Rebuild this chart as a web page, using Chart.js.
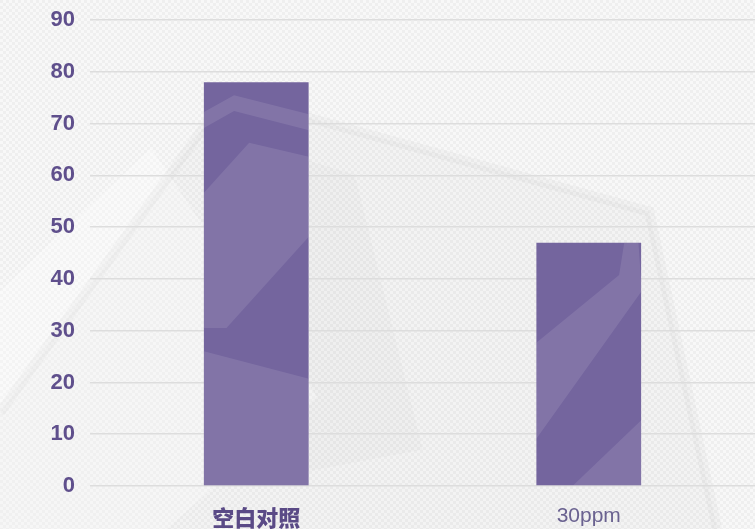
<!DOCTYPE html>
<html>
<head>
<meta charset="utf-8">
<script src="https://cdn.jsdelivr.net/npm/chart.js@4/dist/chart.umd.min.js"></script>
<style>
  html, body { margin: 0; padding: 0; background: #f4f4f4; overflow: hidden; }
  #wrap { width: 755px; height: 529px; }
</style>
</head>
<body>
<div id="wrap"><canvas id="c"></canvas></div>
<script>
// data
const categories = ['空白对照', '30ppm'];
const values = [78, 47];
const yTicks = [0, 10, 20, 30, 40, 50, 60, 70, 80, 90];

const purple = '#5f4f8c';

// decorative backdrop shapes, in fractions of canvas size
const shapes = [
  { pts: [[0, 0.78], [0.30, 0.18], [0.86, 0.40], [0.95, 1.0], [0, 1.0]], fill: 'rgba(0,0,0,0.018)' },
  { pts: [[0.33, 0.27], [0.47, 0.33], [0.56, 0.85], [0.30, 0.92], [0.27, 0.50]], fill: 'rgba(0,0,0,0.015)' },
  { pts: [[0.0, 0.55], [0.20, 0.28], [0.42, 0.75], [0.22, 1.0], [0.0, 1.0]], fill: 'rgba(255,255,255,0.3)' }
];

function drawShapes(ctx, w, h) {
  shapes.forEach(s => {
    ctx.beginPath();
    s.pts.forEach((p, i) => {
      if (i === 0) ctx.moveTo(p[0] * w, p[1] * h); else ctx.lineTo(p[0] * w, p[1] * h);
    });
    ctx.closePath();
    ctx.fillStyle = s.fill;
    ctx.fill();
  });
}

function makePattern() {
  const p = document.createElement('canvas');
  p.width = 6; p.height = 6;
  const g = p.getContext('2d');
  g.fillStyle = '#f8f8f8';
  g.fillRect(0, 0, 6, 6);
  g.fillStyle = '#efefef';
  g.fillRect(0, 0, 3, 3);
  g.fillRect(3, 3, 3, 3);
  return p;
}

function poly(ctx, w, h, pts) {
  ctx.beginPath();
  pts.forEach((p, i) => {
    if (i === 0) ctx.moveTo(p[0] * w, p[1] * h); else ctx.lineTo(p[0] * w, p[1] * h);
  });
  ctx.closePath();
  ctx.fill();
}

const backdrop = {
  id: 'backdrop',
  beforeDraw(chart) {
    const { ctx, width, height } = chart;
    ctx.save();
    ctx.fillStyle = ctx.createPattern(makePattern(), 'repeat');
    ctx.fillRect(0, 0, width, height);
    drawShapes(ctx, width, height);
    ctx.strokeStyle = 'rgba(0,0,0,0.022)';
    ctx.lineWidth = 10;
    ctx.beginPath();
    ctx.moveTo(0, 0.78 * height);
    ctx.lineTo(0.30 * width, 0.18 * height);
    ctx.lineTo(0.86 * width, 0.40 * height);
    ctx.lineTo(0.95 * width, height);
    ctx.stroke();
    ctx.restore();
  },
  afterDatasetsDraw(chart) {
    const { ctx, width, height } = chart;
    const meta = chart.getDatasetMeta(0);
    meta.data.forEach(bar => {
      const p = bar.getProps(['x', 'y', 'base', 'width'], true);
      ctx.save();
      ctx.beginPath();
      ctx.rect(p.x - p.width / 2, p.y, p.width, p.base - p.y);
      ctx.clip();
      ctx.fillStyle = 'rgba(255,255,255,0.1)';
      // thin chevron near top of first bar
      poly(ctx, width, height, [[0.26, 0.22], [0.31, 0.18], [0.42, 0.22], [0.42, 0.25], [0.31, 0.21], [0.26, 0.25]]);
      // broad diagonal band
      poly(ctx, width, height, [[0.26, 0.38], [0.33, 0.27], [0.42, 0.30], [0.42, 0.43], [0.30, 0.62], [0.26, 0.62]]);
      // lower block of first bar
      poly(ctx, width, height, [[0.26, 0.66], [0.42, 0.72], [0.42, 1.0], [0.26, 1.0]]);
      // diagonal band across second bar
      poly(ctx, width, height, [[0.70, 0.66], [0.82, 0.52], [0.84, 0.34], [0.85, 0.55], [0.70, 0.85]]);
      poly(ctx, width, height, [[0.75, 0.93], [0.86, 0.78], [0.86, 0.93]]);
      ctx.restore();
    });
  }
};

new Chart(document.getElementById('c'), {
  type: 'bar',
  data: {
    labels: categories,
    datasets: [{
      data: values,
      backgroundColor: '#74659e',
      borderWidth: 0,
      categoryPercentage: 1,
      barPercentage: 0.315
    }]
  },
  options: {
    responsive: true,
    maintainAspectRatio: false,
    animation: false,
    layout: { padding: { top: 20, right: 0, left: 0, bottom: 0 } },
    plugins: { legend: { display: false }, tooltip: { enabled: false } },
    scales: {
      x: {
        grid: { display: false },
        border: { display: false },
        afterFit(scale) { scale.height = 43; },
        ticks: {
          padding: 10,
          font: ctx => ({
            family: ctx.index === 0 ? '"Noto Sans CJK SC", sans-serif' : '"Liberation Sans", Arial, sans-serif',
            size: ctx.index === 0 ? 22 : 21,
            weight: ctx.index === 0 ? '900' : 'normal'
          }),
          color: ctx => ctx.index === 0 ? '#5a4a86' : '#6a6290'
        }
      },
      y: {
        min: 0,
        max: 90,
        afterBuildTicks(scale) { scale.ticks = yTicks.map(v => ({ value: v })); },
        afterFit(scale) {
          scale.width = 90;
          scale.paddingTop = 0;
          scale.paddingBottom = 0;
        },
        grid: { color: '#dddddd', lineWidth: 1.5, drawTicks: false },
        border: { display: false },
        ticks: {
          padding: 15,
          color: purple,
          font: { family: '"Liberation Sans", Arial, sans-serif', size: 22, weight: 'bold' }
        }
      }
    }
  },
  plugins: [backdrop]
});
</script>
</body>
</html>
